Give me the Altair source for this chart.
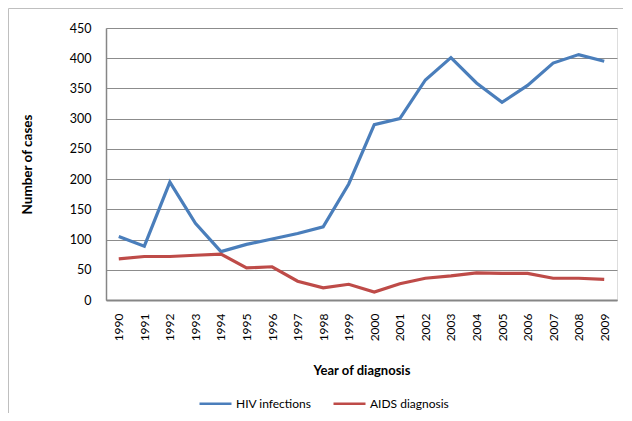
import altair as alt
import pandas as pd

years = [str(y) for y in range(1990, 2010)]
hiv_infections = [105, 89, 195, 127, 80, 92, 101, 110, 121, 192,
                  290, 300, 364, 401, 359, 327, 355, 392, 406, 395]
aids_diagnosis = [68, 72, 72, 74, 76, 53, 55, 31, 20, 26,
                  13, 27, 36, 40, 45, 44, 44, 36, 36, 34]
series_names = ["HIV infections", "AIDS diagnosis"]
series_colors = ["#4A7EBB", "#BE4B48"]

rows = []
for name, vals in zip(series_names, [hiv_infections, aids_diagnosis]):
    for y, v in zip(years, vals):
        rows.append({"Year": y, "Cases": v, "Series": name})
df = pd.DataFrame(rows)

font = "Lato"

lines = alt.Chart(df).mark_line(strokeWidth=3.2).encode(
    x=alt.X("Year:O", scale=alt.Scale(padding=0.5),
            axis=alt.Axis(title="Year of diagnosis", labelAngle=-90, ticks=False,
                          labelPadding=13, grid=False, domainColor="#868686",
                          domainWidth=2, labelColor="#000000", labelFontSize=12,
                          labelFont=font, titleFont=font, titleFontSize=13,
                          titleFontWeight="bold", titleColor="#000000",
                          titleX=255.5, titleY=70, titleBaseline="middle",
                          titleAlign="center")),
    y=alt.Y("Cases:Q", scale=alt.Scale(domain=[0, 450], nice=False),
            axis=alt.Axis(title="Number of cases", values=list(range(0, 451, 50)),
                          ticks=False, labelPadding=15, gridColor="#8c8c8c",
                          gridWidth=1, domainColor="#868686", domainWidth=1.5,
                          labelColor="#000000", labelFontSize=12.5, labelFont=font,
                          titleFont=font, titleFontSize=13.5, titleFontWeight="bold",
                          titleColor="#000000", titleAngle=-90, titleX=-79,
                          titleY=136, titleAlign="center", titleBaseline="middle")),
    color=alt.Color("Series:N",
                    scale=alt.Scale(domain=series_names, range=series_colors),
                    sort=series_names,
                    legend=alt.Legend(title=None, orient="none", direction="horizontal",
                                      legendX=92, legendY=358, symbolType="stroke",
                                      symbolSize=1024, symbolStrokeWidth=2.5,
                                      labelFont=font, labelFontSize=12,
                                      labelColor="#000000", labelOffset=3,
                                      columnPadding=16)),
)

border = alt.Chart(pd.DataFrame({"a": [0]})).mark_rect(
    fill=None, stroke="#bfbfbf", strokeWidth=1
).encode(
    x=alt.value(-97.5), x2=alt.value(530),
    y=alt.value(-19.5), y2=alt.value(400),
)

chart = alt.layer(border, lines).properties(
    width=511, height=272,
    autosize=alt.AutoSizeParams(type="none"),
    padding={"left": 98, "top": 20, "right": 6, "bottom": 113},
).configure_view(stroke=None).configure(font=font, background="white")

chart.save("out.html", embed_options={"renderer": "svg", "actions": False})
